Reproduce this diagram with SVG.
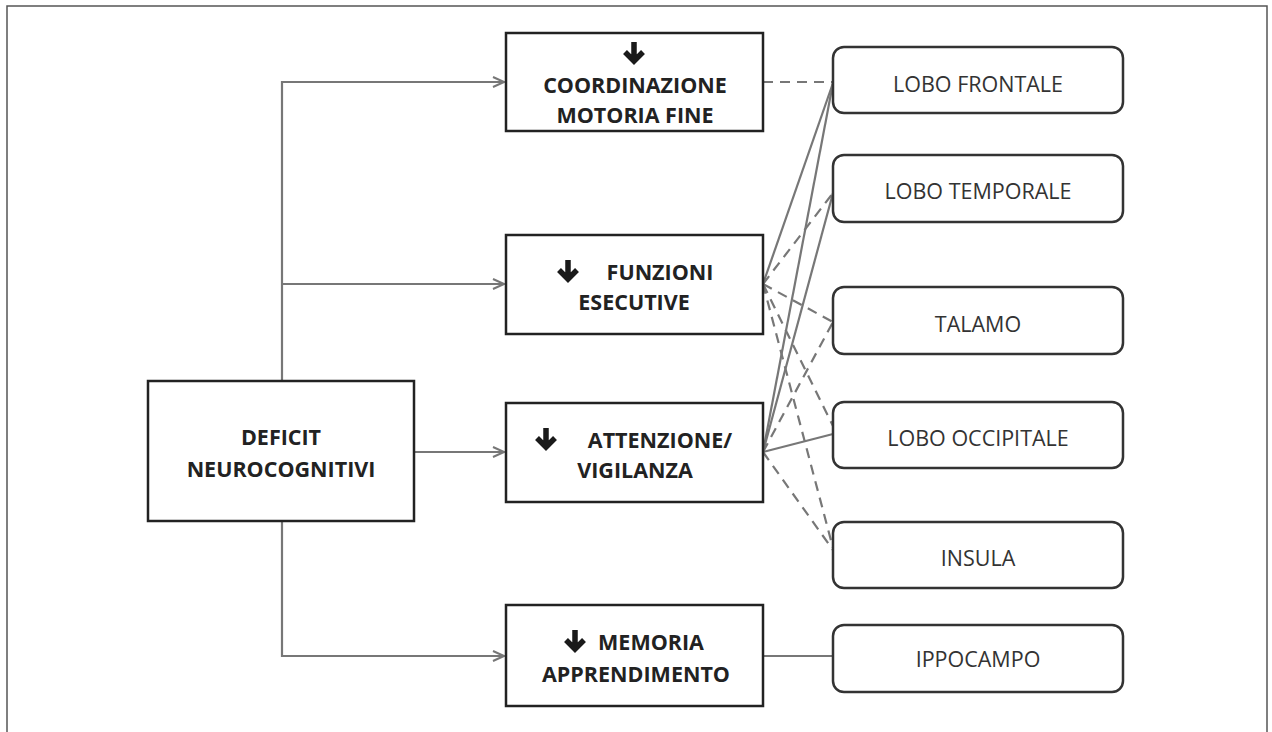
<svg xmlns="http://www.w3.org/2000/svg" width="1272" height="732" viewBox="0 0 1272 732">
<defs>
<marker id="arr" markerWidth="14" markerHeight="12" refX="12" refY="6" orient="auto" markerUnits="userSpaceOnUse">
<path d="M1,1 L12,6 L1,11" fill="none" stroke="#777" stroke-width="2"/>
</marker>
</defs>
<style>
.frame{fill:none;stroke:#555;stroke-width:1.5}
.box{fill:#fff;stroke:#222;stroke-width:2.5}
.rbox{fill:#fff;stroke:#333;stroke-width:2.5}
.c{fill:none;stroke:#777;stroke-width:2.2}
.d{fill:none;stroke:#777;stroke-width:2.2;stroke-dasharray:10 7}
.b{font-family:"Open Sans","Liberation Sans",sans-serif;font-weight:bold;font-size:21.5px;fill:#222;text-anchor:middle}
.r{font-family:"Open Sans","Liberation Sans",sans-serif;font-size:21.5px;fill:#333;text-anchor:middle}
.ic{fill:none;stroke:#1a1a1a;stroke-width:5.5}
</style>
<rect width="1272" height="732" fill="#fff"/>
<path class="frame" d="M7,732 V6 H1267 V732"/>
<g id="connectors">
<path class="c" d="M282,381 V82 H504" marker-end="url(#arr)"/>
<path class="c" d="M282,284 H504" marker-end="url(#arr)"/>
<path class="c" d="M414,452 H504" marker-end="url(#arr)"/>
<path class="c" d="M282,521 V656 H504" marker-end="url(#arr)"/>
<path class="d" d="M763,82 H833"/>
<path class="c" d="M763,656 H833"/>
<path class="c" d="M833,83 L763,284"/>
<path class="c" d="M833,83 L763,452"/>
<path class="c" d="M833,193 L763,452"/>
<path class="c" d="M833,434 L763,452"/>
<path class="d" d="M763,284 L833,193"/>
<path class="d" d="M763,284 L833,322"/>
<path class="d" d="M763,284 L833,426"/>
<path class="d" d="M763,284 L833,548"/>
<path class="d" d="M763,452 L833,322"/>
<path class="d" d="M763,452 L833,550"/>
</g>
<g id="deficit">
<rect class="box" x="148" y="381" width="266" height="140"/>
<text class="b" x="281" y="445">DEFICIT</text>
<text class="b" x="281" y="477">NEUROCOGNITIVI</text>
</g>
<g id="coordinazione">
<rect class="box" x="506" y="33" width="257" height="98"/>
<path class="ic" d="M634,42 V61 M625,52 L634,61 L643,52"/>
<text class="b" x="635" y="93">COORDINAZIONE</text>
<text class="b" x="635" y="123">MOTORIA FINE</text>
</g>
<g id="funzioni">
<rect class="box" x="506" y="235" width="257" height="99"/>
<path class="ic" d="M568,260 V279 M559,270 L568,279 L577,270"/>
<text class="b" x="660" y="280">FUNZIONI</text>
<text class="b" x="634" y="310">ESECUTIVE</text>
</g>
<g id="attenzione">
<rect class="box" x="506" y="403" width="257" height="99"/>
<path class="ic" d="M546,428 V447 M537,438 L546,447 L555,438"/>
<text class="b" x="660" y="448">ATTENZIONE/</text>
<text class="b" x="635" y="478">VIGILANZA</text>
</g>
<g id="memoria">
<rect class="box" x="506" y="605" width="257" height="101"/>
<path class="ic" d="M575,630 V649 M566,640 L575,649 L584,640"/>
<text class="b" x="651" y="650">MEMORIA</text>
<text class="b" x="636" y="682">APPRENDIMENTO</text>
</g>
<g id="frontale">
<rect class="rbox" x="833" y="47" width="290" height="66" rx="11"/>
<text class="r" x="978" y="92">LOBO FRONTALE</text>
</g>
<g id="temporale">
<rect class="rbox" x="833" y="155" width="290" height="67" rx="11"/>
<text class="r" x="978" y="199">LOBO TEMPORALE</text>
</g>
<g id="talamo">
<rect class="rbox" x="833" y="287" width="290" height="67" rx="11"/>
<text class="r" x="978" y="332">TALAMO</text>
</g>
<g id="occipitale">
<rect class="rbox" x="833" y="402" width="290" height="66" rx="11"/>
<text class="r" x="978" y="446">LOBO OCCIPITALE</text>
</g>
<g id="insula">
<rect class="rbox" x="833" y="522" width="290" height="66" rx="11"/>
<text class="r" x="978" y="566">INSULA</text>
</g>
<g id="ippocampo">
<rect class="rbox" x="833" y="625" width="290" height="67" rx="11"/>
<text class="r" x="978" y="667">IPPOCAMPO</text>
</g>
</svg>
